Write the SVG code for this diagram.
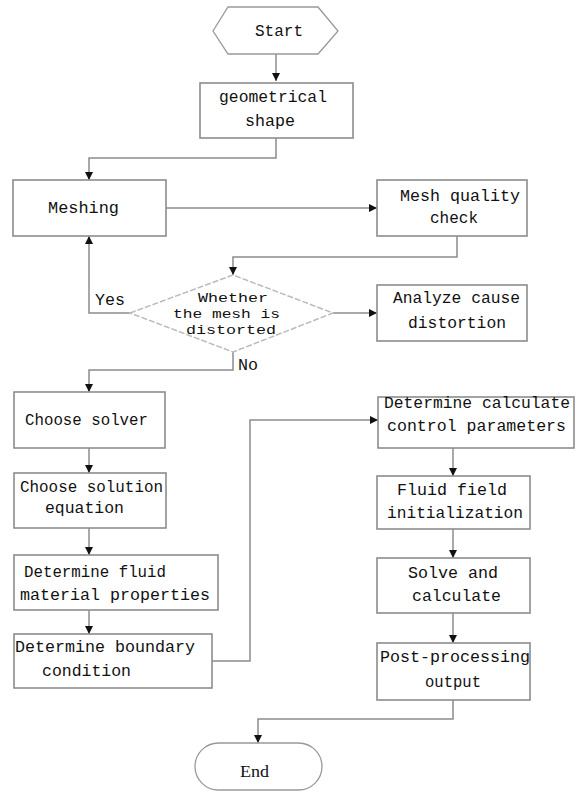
<svg xmlns="http://www.w3.org/2000/svg" width="584" height="793" viewBox="0 0 584 793">
<style>
  .box{fill:#fff;stroke:#8c8c8c;stroke-width:1.6}
  .term{fill:#fff;stroke:#999;stroke-width:1.3}
  .dia{fill:#fff;stroke:#bbb;stroke-width:1.5;stroke-dasharray:6 2}
  .t{font-family:"Liberation Mono","DejaVu Sans Mono",monospace;font-size:16.5px;fill:#111}
  .d{font-family:"Liberation Mono","DejaVu Sans Mono",monospace;font-size:13.5px;fill:#111}
  .e{font-family:"Liberation Serif","DejaVu Serif",serif;font-size:16px;fill:#111}
  .c{fill:none;stroke:#8c8c8c;stroke-width:1.5}
</style>
<defs>
  <marker id="ah" viewBox="0 0 10 10" refX="10" refY="5" markerWidth="8" markerHeight="8" markerUnits="userSpaceOnUse" orient="auto">
    <path d="M0,0 L10,5 L0,10 z" fill="#111"/>
  </marker>
</defs>
<rect width="584" height="793" fill="#fff"/>

<g id="connectors">
  <path class="c" d="M276,54 V81" marker-end="url(#ah)"/>
  <path class="c" d="M276,138 V158 H89 V180" marker-end="url(#ah)"/>
  <path class="c" d="M166,208 H377" marker-end="url(#ah)"/>
  <path class="c" d="M457,236 V257 H233 V275" marker-end="url(#ah)"/>
  <path class="c" d="M130,313 H89 V236" marker-end="url(#ah)"/>
  <path class="c" d="M333,313 H377" marker-end="url(#ah)"/>
  <path class="c" d="M233,352 V370 H89 V392" marker-end="url(#ah)"/>
  <path class="c" d="M89,448 V473" marker-end="url(#ah)"/>
  <path class="c" d="M89,528 V555" marker-end="url(#ah)"/>
  <path class="c" d="M89,610 V634" marker-end="url(#ah)"/>
  <path class="c" d="M212,661 H250 V420 H378" marker-end="url(#ah)"/>
  <path class="c" d="M453,448 V476" marker-end="url(#ah)"/>
  <path class="c" d="M453,529 V558" marker-end="url(#ah)"/>
  <path class="c" d="M453,613 V643" marker-end="url(#ah)"/>
  <path class="c" d="M453,700 V719 H258 V743" marker-end="url(#ah)"/>
  <text class="t" x="95" y="305" textLength="30" lengthAdjust="spacingAndGlyphs">Yes</text>
  <text class="t" x="238" y="370" textLength="20" lengthAdjust="spacingAndGlyphs">No</text>
</g>

<g id="start">
  <polygon class="term" points="213,31 228,7 318,7 338,31 318,54 228,54"/>
  <text class="t" x="255" y="36" textLength="48" lengthAdjust="spacingAndGlyphs">Start</text>
</g>
<g id="geometry">
  <rect class="box" x="200" y="83" width="153" height="55"/>
  <text class="t" x="219" y="102" textLength="108" lengthAdjust="spacingAndGlyphs">geometrical</text>
  <text class="t" x="245" y="126" textLength="50" lengthAdjust="spacingAndGlyphs">shape</text>
</g>
<g id="meshing">
  <rect class="box" x="13" y="180" width="153" height="56"/>
  <text class="t" x="48" y="213" textLength="71" lengthAdjust="spacingAndGlyphs">Meshing</text>
</g>
<g id="quality">
  <rect class="box" x="377" y="180" width="150" height="56"/>
  <text class="t" x="400" y="201" textLength="120" lengthAdjust="spacingAndGlyphs">Mesh quality</text>
  <text class="t" x="430" y="223" textLength="48" lengthAdjust="spacingAndGlyphs">check</text>
</g>
<g id="decision">
  <polygon class="dia" points="130,313 233,275 333,313 233,352"/>
  <text class="d" x="198" y="302" textLength="70" lengthAdjust="spacingAndGlyphs">Whether</text>
  <text class="d" x="173" y="318" textLength="107" lengthAdjust="spacingAndGlyphs">the mesh is</text>
  <text class="d" x="186" y="334" textLength="90" lengthAdjust="spacingAndGlyphs">distorted</text>
</g>
<g id="analyze">
  <rect class="box" x="377" y="285" width="150" height="56"/>
  <text class="t" x="393" y="303" textLength="127" lengthAdjust="spacingAndGlyphs">Analyze cause</text>
  <text class="t" x="408" y="328" textLength="98" lengthAdjust="spacingAndGlyphs">distortion</text>
</g>
<g id="solver">
  <rect class="box" x="14" y="392" width="151" height="56"/>
  <text class="t" x="25" y="425" textLength="123" lengthAdjust="spacingAndGlyphs">Choose solver</text>
</g>
<g id="equation">
  <rect class="box" x="14" y="473" width="152" height="55"/>
  <text class="t" x="20" y="492" textLength="143" lengthAdjust="spacingAndGlyphs">Choose solution</text>
  <text class="t" x="45" y="513" textLength="79" lengthAdjust="spacingAndGlyphs">equation</text>
</g>
<g id="material">
  <rect class="box" x="14" y="555" width="204" height="55"/>
  <text class="t" x="24" y="577" textLength="142" lengthAdjust="spacingAndGlyphs">Determine fluid</text>
  <text class="t" x="20" y="600" textLength="190" lengthAdjust="spacingAndGlyphs">material properties</text>
</g>
<g id="boundary">
  <rect class="box" x="14" y="634" width="198" height="54"/>
  <text class="t" x="15" y="652" textLength="180" lengthAdjust="spacingAndGlyphs">Determine boundary</text>
  <text class="t" x="42" y="676" textLength="89" lengthAdjust="spacingAndGlyphs">condition</text>
</g>
<g id="control">
  <rect class="box" x="378" y="397" width="196" height="51"/>
  <text class="t" x="384" y="408" textLength="186" lengthAdjust="spacingAndGlyphs">Determine calculate</text>
  <text class="t" x="387" y="431" textLength="179" lengthAdjust="spacingAndGlyphs">control parameters</text>
</g>
<g id="init">
  <rect class="box" x="377" y="476" width="153" height="53"/>
  <text class="t" x="397" y="495" textLength="110" lengthAdjust="spacingAndGlyphs">Fluid field</text>
  <text class="t" x="387" y="518" textLength="136" lengthAdjust="spacingAndGlyphs">initialization</text>
</g>
<g id="solve">
  <rect class="box" x="377" y="558" width="153" height="55"/>
  <text class="t" x="408" y="578" textLength="90" lengthAdjust="spacingAndGlyphs">Solve and</text>
  <text class="t" x="412" y="601" textLength="89" lengthAdjust="spacingAndGlyphs">calculate</text>
</g>
<g id="post">
  <rect class="box" x="377" y="643" width="153" height="57"/>
  <text class="t" x="380" y="662" textLength="150" lengthAdjust="spacingAndGlyphs">Post-processing</text>
  <text class="t" x="425" y="687" textLength="56" lengthAdjust="spacingAndGlyphs">output</text>
</g>
<g id="end">
  <rect class="term" x="195" y="743" width="127" height="47" rx="23.5"/>
  <text class="e" x="240" y="777" textLength="29" lengthAdjust="spacingAndGlyphs">End</text>
</g>
</svg>
